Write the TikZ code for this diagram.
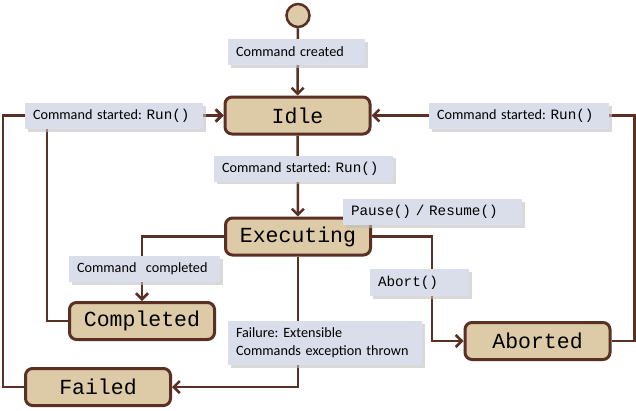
\documentclass[tikz,border=0pt]{standalone}
\usepackage{fontspec}
\setmainfont{Carlito}
\setmonofont{Liberation Mono}
\usetikzlibrary{arrows.meta,shadows}

\frenchspacing
\newcommand\codetxt[1]{{\ttfamily\fontsize{14.3}{18}\selectfont #1}}

\begin{document}
\begin{tikzpicture}[x=1pt,y=-1pt,
  state/.style={draw=marron_oscuro, fill=beige_estado, line width=3pt, rounded corners=7pt,
    minimum width=145pt, minimum height=37pt, inner sep=0pt,
    font=\ttfamily\fontsize{21.5}{24}\selectfont},
  etiqueta/.style={fill=azul_etiqueta, inner xsep=8pt, inner ysep=0pt, minimum height=26pt,
    align=left, font=\fontsize{14.2}{18}\selectfont,
    drop shadow={shadow xshift=2.5pt, shadow yshift=-2.5pt, fill=black!25, opacity=0.6}},
  flujo/.style={draw=marron_oscuro, line width=2.5pt,
    -{Straight Barb[length=6pt,width=12pt]}}]

    \definecolor{marron_oscuro}{HTML}{5A2F24}
    \definecolor{beige_estado}{HTML}{DCCBA6}
    \definecolor{azul_etiqueta}{HTML}{D9DEEA}

  \useasboundingbox (0,0) rectangle (636,410);

  % States

  \node [circle, draw=marron_oscuro, fill=beige_estado, line width=2.5pt,
    minimum size=23pt, inner sep=0pt] (start) at (298,15.5) {};
  \node [state] (idle)      at (297.5,115.5) {Idle};
  \node [state] (executing) at (298,236.5)   {Executing};
  \node [state] (completed) at (142,321)     {Completed};
  \node [state] (failed)    at (98,387)      {Failed};
  \node [state] (aborted)   at (537.5,341)   {Aborted};

  % Transitions

  \draw [flujo] (start) -- (idle);
  \draw [flujo] (idle) -- (executing);
  \draw [flujo] (completed.west) -- ++(-21,0) |- (idle.west);
  \draw [flujo] (failed.west) -- ++(-21,0) |- (idle.west);
  \draw [flujo] (aborted.east) -- ++(23,0) |- (idle.east);
  \draw [flujo] (executing.west) -| (completed.north);
  \draw [flujo] (executing.east) -- ++(60,0) |- (aborted.west);
  \draw [flujo] (executing.south) |- (failed.east);

  % Labels of the transitions

  \node [etiqueta, text width=121pt] (lblcreated) at (296.5,52) {Command created};
  \node [etiqueta, text width=162pt] (lblrunleft) at (114,116) {Command started: \codetxt{Run()}};
  \node [etiqueta, text width=164pt] (lblrunright) at (519,116) {Command started: \codetxt{Run()}};
  \node [etiqueta, text width=163pt] (lblrunmid) at (303.5,168.5) {Command started: \codetxt{Run()}};
  \node [etiqueta, text width=163pt] (lblpause) at (432.5,212) {\codetxt{Pause() / Resume()}};
  \node [etiqueta, text width=135pt] (lblcompleted) at (144.5,269) {Command\ \ completed};
  \node [etiqueta, text width=83pt, minimum height=27pt] (lblabort) at (419.5,282.5) {\codetxt{Abort()}};
  \node [etiqueta, text width=178pt, minimum height=44pt] (lblfailure) at (325,343)
    {Failure: Extensible\\Commands exception thrown};

\end{tikzpicture}
\end{document}
